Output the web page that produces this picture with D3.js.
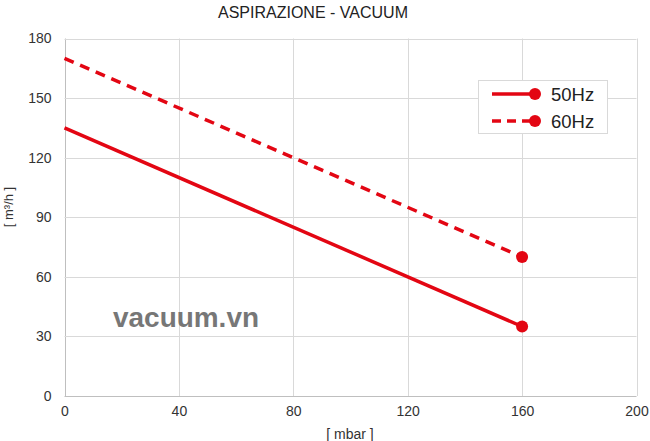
<!DOCTYPE html>
<html><head><meta charset="utf-8">
<script src="https://cdn.jsdelivr.net/npm/d3@7"></script>
<style>
body{margin:0;background:#fff;}
text{font-family:"Liberation Sans",Arial,sans-serif;}
</style></head>
<body><svg id="c" width="650" height="441"></svg>
<script>
const xTicks = [0, 40, 80, 120, 160, 200];
const yTicks = [0, 30, 60, 90, 120, 150, 180];
const pressure = [0, 160];
const flow50 = [135, 35];
const flow60 = [170, 70];
const seriesNames = ["50Hz", "60Hz"];
const title = "ASPIRAZIONE - VACUUM";
const xLabel = "[ mbar ]";
const yLabel = "[ m³/h ]";
const watermark = "vacuum.vn";

const red = "#e30613";
const svg = d3.select("#c");
const x = d3.scaleLinear().domain([0, 200]).range([64.5, 636.5]);
const y = d3.scaleLinear().domain([0, 180]).range([396, 38.5]);

// grid
svg.append("g").selectAll("line").data(xTicks).join("line")
  .attr("x1", d => Math.round(x(d)) + 0.5).attr("x2", d => Math.round(x(d)) + 0.5).attr("y1", y(0)).attr("y2", y(180))
  .attr("stroke", d => d === 0 ? "#bfbfbf" : "#d9d9d9").attr("stroke-width", 1);
svg.append("g").selectAll("line").data(yTicks).join("line")
  .attr("x1", x(0)).attr("x2", x(200)).attr("y1", d => Math.round(y(d)) + 0.5).attr("y2", d => Math.round(y(d)) + 0.5)
  .attr("stroke", d => d === 0 ? "#bfbfbf" : "#d9d9d9").attr("stroke-width", 1);

// axes labels
const xa = svg.append("g").attr("transform", `translate(0,${y(0)})`)
  .call(d3.axisBottom(x).tickValues(xTicks).tickSize(0).tickPadding(10));
xa.select(".domain").remove();
xa.selectAll("text").attr("font-size", 14).attr("fill", "#333").attr("font-family", "Liberation Sans, Arial, sans-serif");
const ya = svg.append("g").attr("transform", `translate(${x(0)},0)`)
  .call(d3.axisLeft(y).tickValues(yTicks).tickSize(0).tickPadding(13));
ya.select(".domain").remove();
ya.selectAll("text").attr("font-size", 14).attr("fill", "#333").attr("font-family", "Liberation Sans, Arial, sans-serif");

svg.append("text").attr("x", 313).attr("y", 18).attr("text-anchor", "middle")
  .attr("font-size", 16).attr("fill", "#222").text(title);
svg.append("text").attr("x", 350).attr("y", 439).attr("text-anchor", "middle")
  .attr("font-size", 14).attr("fill", "#333").text(xLabel);
svg.append("text").attr("transform", "translate(13,207) rotate(-90)").attr("text-anchor", "middle")
  .attr("font-size", 13).attr("fill", "#333").text(yLabel);

// watermark
svg.append("text").attr("x", 113).attr("y", 327).attr("font-size", 28)
  .attr("font-family", "Liberation Sans Narrow, Arial Narrow, sans-serif").attr("font-weight", "bold")
  .attr("fill", "#777").attr("textLength", 146).attr("lengthAdjust", "spacingAndGlyphs").text(watermark);

// series
const series = [
  {name: seriesNames[0], vals: flow50, dash: null},
  {name: seriesNames[1], vals: flow60, dash: "10,7"}
];
const line = d3.line().x(d => x(d[0])).y(d => y(d[1]));
series.forEach(s => {
  const pts = pressure.map((p, i) => [p, s.vals[i]]);
  svg.append("path").attr("d", line(pts)).attr("fill", "none").attr("stroke", red)
    .attr("stroke-width", 3.5).attr("stroke-dasharray", s.dash);
  const last = pts[pts.length - 1];
  svg.append("circle").attr("cx", x(last[0])).attr("cy", y(last[1])).attr("r", 6).attr("fill", red);
});

// legend
const lg = svg.append("g");
lg.append("rect").attr("x", 478.5).attr("y", 80.5).attr("width", 129).attr("height", 53)
  .attr("fill", "#fff").attr("stroke", "#d9d9d9");
series.forEach((s, i) => {
  const yy = 94 + i * 27;
  lg.append("line").attr("x1", 492).attr("x2", 535).attr("y1", yy).attr("y2", yy)
    .attr("stroke", red).attr("stroke-width", 3.5).attr("stroke-dasharray", s.dash ? "9,6" : null);
  lg.append("circle").attr("cx", 535).attr("cy", yy).attr("r", 6).attr("fill", red);
  lg.append("text").attr("x", 551).attr("y", yy + 6.5).attr("font-size", 18.5).attr("fill", "#222").text(s.name);
});
</script></body></html>
